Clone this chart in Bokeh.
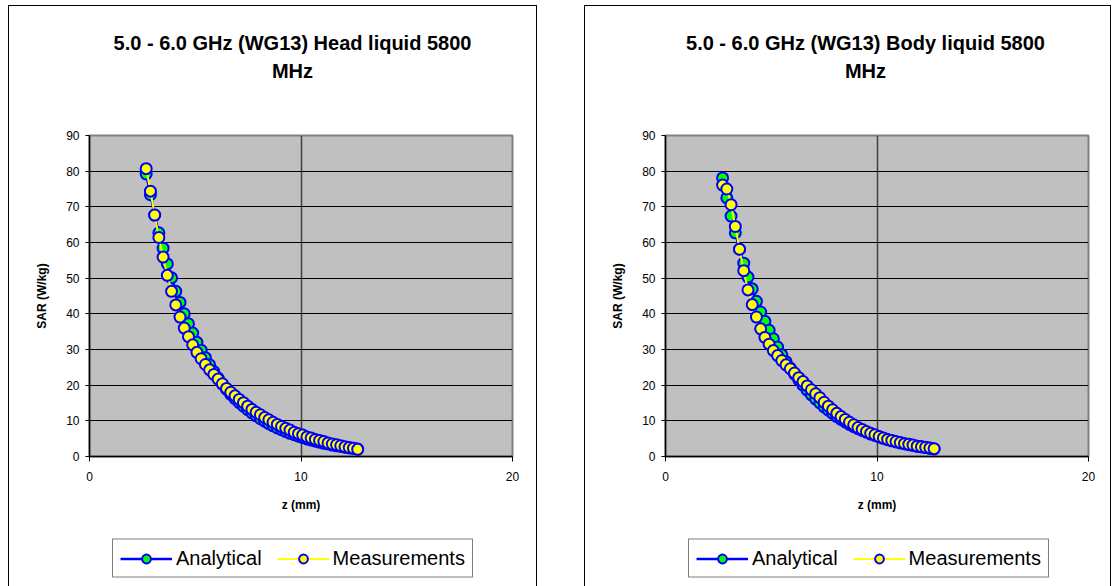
from bokeh.plotting import figure
from bokeh.models import Range1d, Legend, LegendItem, FixedTicker
from bokeh.layouts import row, column
from bokeh.core.properties import value
from bokeh.embed import file_html
from bokeh.resources import INLINE

# ---------------- data ----------------
head_title = ["5.0 - 6.0 GHz (WG13) Head liquid 5800", "MHz"]
body_title = ["5.0 - 6.0 GHz (WG13) Body liquid 5800", "MHz"]
series_names = ["Analytical", "Measurements"]
x_label = "z (mm)"
y_label = "SAR (W/kg)"
x_ticks = [0, 10, 20]
y_ticks = [0, 10, 20, 30, 40, 50, 60, 70, 80, 90]

head_z = [2.68, 2.88, 3.08, 3.28, 3.48, 3.68, 3.88, 4.08, 4.28, 4.48,
          4.68, 4.88, 5.08, 5.28, 5.48, 5.68, 5.88, 6.08, 6.28, 6.48,
          6.68, 6.88, 7.08, 7.28, 7.48, 7.68, 7.88, 8.08, 8.28, 8.48,
          8.68, 8.88, 9.08, 9.28, 9.48, 9.68, 9.88, 10.08, 10.28, 10.48,
          10.68, 10.88, 11.08, 11.28, 11.48, 11.68, 11.88, 12.08, 12.28, 12.48,
          12.68]
head_analytical = [79.2, 73.4, 67.7, 62.7, 58.4, 54.0, 50.1, 46.3, 43.2, 40.0,
                   37.2, 34.6, 32.0, 29.8, 27.7, 25.7, 23.8, 22.0, 20.3, 18.8,
                   17.4, 16.2, 15.1, 14.1, 13.1, 12.2, 11.4, 10.6, 9.9, 9.2,
                   8.6, 8.0, 7.5, 7.0, 6.5, 6.1, 5.7, 5.3, 4.9, 4.6,
                   4.3, 4.0, 3.7, 3.5, 3.2, 3.0, 2.8, 2.6, 2.4, 2.3,
                   2.1]
head_measured = [80.7, 74.4, 67.7, 61.4, 55.9, 50.8, 46.3, 42.5, 39.1, 36.0,
                 33.6, 31.3, 29.2, 27.4, 25.8, 24.3, 23.0, 21.7, 20.4, 19.1,
                 18.0, 17.0, 16.0, 15.1, 14.1, 13.2, 12.4, 11.7, 10.9, 10.3,
                 9.6, 9.0, 8.4, 7.9, 7.4, 6.8, 6.4, 6.0, 5.5, 5.2,
                 4.8, 4.5, 4.2, 3.8, 3.5, 3.3, 3.0, 2.7, 2.5, 2.3,
                 2.0]

body_z = [2.7, 2.9, 3.1, 3.3, 3.5, 3.7, 3.9, 4.1, 4.3, 4.5,
          4.7, 4.9, 5.1, 5.3, 5.5, 5.7, 5.9, 6.1, 6.3, 6.5,
          6.7, 6.9, 7.1, 7.3, 7.5, 7.7, 7.9, 8.1, 8.3, 8.5,
          8.7, 8.9, 9.1, 9.3, 9.5, 9.7, 9.9, 10.1, 10.3, 10.5,
          10.7, 10.9, 11.1, 11.3, 11.5, 11.7, 11.9, 12.1, 12.3, 12.5,
          12.7]
body_analytical = [78.1, 72.5, 67.4, 62.7, 58.1, 54.2, 50.3, 47.0, 43.5, 40.5,
                   37.9, 35.4, 33.0, 30.7, 28.5, 26.6, 24.8, 23.1, 21.5, 20.0,
                   18.6, 17.3, 16.1, 15.0, 13.9, 13.0, 12.1, 11.2, 10.4, 9.7,
                   9.0, 8.4, 7.8, 7.3, 6.8, 6.3, 5.9, 5.5, 5.1, 4.7,
                   4.4, 4.1, 3.8, 3.6, 3.3, 3.1, 2.9, 2.7, 2.5, 2.3,
                   2.1]
body_measured = [76.1, 75.0, 70.6, 64.5, 58.1, 52.1, 46.7, 42.6, 39.1, 35.8,
                 33.4, 31.5, 29.7, 28.3, 26.9, 25.7, 24.6, 23.4, 22.1, 21.0,
                 19.8, 18.7, 17.6, 16.5, 15.2, 14.1, 13.1, 12.1, 11.2, 10.4,
                 9.6, 8.9, 8.1, 7.6, 7.0, 6.5, 6.1, 5.6, 5.2, 4.8,
                 4.5, 4.2, 3.9, 3.6, 3.4, 3.2, 2.9, 2.7, 2.6, 2.4,
                 2.2]

FONT = "Liberation Sans"
A_LINE = dict(line_color="#0000FF", line_width=2.5)
A_MARK = dict(marker="circle", size=11, fill_color="#00FF00", line_color="#0000FF", line_width=2)
M_LINE = dict(line_color="#FFFF00", line_width=2)
M_MARK = dict(marker="circle", size=11, fill_color="#FFFF00", line_color="#0000FF", line_width=2)

# plot frame occupies content pixels 80..503 of each panel (frames are aligned in a column)
FRAME_L, FRAME_R = 80, 503


def blank_fig(width, height, **kw):
    f = figure(width=width, height=height, output_backend="svg", toolbar_location=None,
               x_axis_type=None, y_axis_type=None, min_border=0, **kw)
    f.outline_line_color = None
    f.background_fill_color = "white"
    f.border_fill_color = "white"
    return f


def make_panel(title_lines, z, sar_a, sar_m, width, title_cx, margin):
    # ---- title block ----
    th = 94
    tf = blank_fig(width, th, x_range=Range1d(FRAME_L, FRAME_R), y_range=Range1d(th, 0),
                   min_border_left=FRAME_L, min_border_right=width - FRAME_R)
    tf.text(x=[title_cx, title_cx], y=[36, 64], text=title_lines,
            text_align="center", text_baseline="middle",
            text_font=value(FONT), text_font_size="20px", text_font_style="bold",
            text_color="black")

    # ---- main plot ----
    p = figure(width=width, height=420, output_backend="svg", toolbar_location=None,
               x_range=Range1d(0, 20), y_range=Range1d(0, 90),
               min_border_left=FRAME_L, min_border_right=width - FRAME_R,
               min_border_top=35, min_border_bottom=64)
    p.background_fill_color = "#C0C0C0"
    p.border_fill_color = "white"
    p.outline_line_color = "#808080"
    p.outline_line_width = 2

    p.xaxis.ticker = FixedTicker(ticks=x_ticks)
    p.yaxis.ticker = FixedTicker(ticks=y_ticks)
    for ax in (p.xaxis[0], p.yaxis[0]):
        ax.axis_line_color = "black"
        ax.axis_line_width = 1.5
        ax.major_tick_line_color = "black"
        ax.major_tick_in = 0
        ax.minor_tick_line_color = None
        ax.major_label_text_font = FONT
        ax.major_label_text_font_size = "12px"
        ax.major_label_text_color = "black"
        ax.axis_label_text_font = FONT
        ax.axis_label_text_font_size = "12px"
        ax.axis_label_text_font_style = "bold"
        ax.axis_label_text_color = "black"
    p.xaxis.major_tick_out = 5
    p.yaxis.major_tick_out = 4
    p.xaxis.major_label_standoff = 10
    p.yaxis.major_label_standoff = 6
    p.xaxis.axis_label = x_label
    p.yaxis.axis_label = y_label
    p.xaxis.axis_label_standoff = 14
    p.yaxis.axis_label_standoff = 14

    p.xgrid.ticker = FixedTicker(ticks=[10])
    p.xgrid.grid_line_color = "#404040"
    p.xgrid.grid_line_width = 1.5
    p.ygrid.ticker = FixedTicker(ticks=y_ticks)
    p.ygrid.grid_line_color = "black"
    p.ygrid.grid_line_width = 1

    p.line(z, sar_a, **A_LINE)
    p.scatter(z, sar_a, **A_MARK)
    p.line(z, sar_m, **M_LINE)
    p.scatter(z, sar_m, **M_MARK)

    # ---- legend block (series redrawn off-range, only their legend swatches show) ----
    lf = blank_fig(width, 40, x_range=Range1d(-2, -1), y_range=Range1d(-2, -1),
                   min_border_left=FRAME_L, min_border_right=width - FRAME_R,
                   margin=(18, 0, 30, 0))
    la = lf.line(z, sar_a, **A_LINE)
    sa = lf.scatter(z, sar_a, **A_MARK)
    lm = lf.line(z, sar_m, **M_LINE)
    sm = lf.scatter(z, sar_m, **M_MARK)
    legend = Legend(items=[LegendItem(label=series_names[0], renderers=[la, sa]),
                           LegendItem(label=series_names[1], renderers=[lm, sm])],
                    orientation="horizontal", location="center_left",
                    border_line_color="black", border_line_width=1,
                    background_fill_color="white", background_fill_alpha=1,
                    label_text_font=FONT, label_text_font_size="20px",
                    label_text_color="black",
                    glyph_width=52, glyph_height=22, label_standoff=4,
                    spacing=15, padding=7, margin=23)
    lf.add_layout(legend, "center")

    col = column(tf, p, lf, margin=margin, styles={"border": "1px solid black"})
    return col


c1 = make_panel(head_title, head_z, head_analytical, head_measured, 527, 283, (5, 0, 0, 8))
c2 = make_panel(body_title, body_z, body_analytical, body_measured, 525, 280, (5, 0, 0, 47))

layout = row(c1, c2)
open("out.html", "w").write(file_html(layout, INLINE))
